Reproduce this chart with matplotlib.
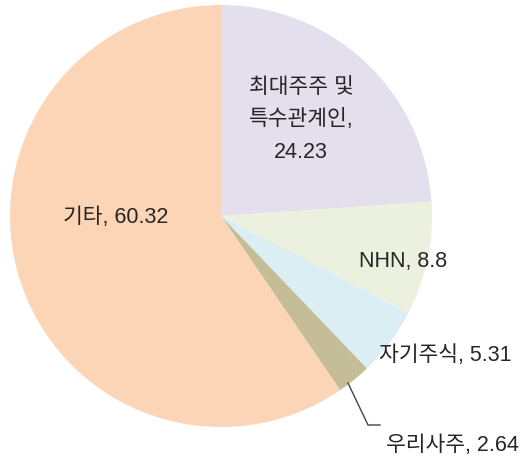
import matplotlib.pyplot as plt

plt.rcParams["font.family"] = ["Liberation Sans", "Noto Sans CJK KR", "DejaVu Sans"]

labels = ["최대주주 및\n특수관계인,\n24.23", "NHN, 8.8", "자기주식, 5.31", "우리사주, 2.64", "기타, 60.32"]
values = [24.23, 8.8, 5.31, 2.64, 60.32]
colors = ["#E4DFEC", "#EBF1DE", "#DBEEF4", "#C4BD97", "#FBD5B5"]

H = 459
fig = plt.figure(figsize=(5.24, 4.59), dpi=100)
ax = fig.add_axes([0, 0, 1, 1])

ax.pie(values, colors=colors, startangle=90, counterclock=False,
       radius=211, center=(221, H - 216), frame=True,
       wedgeprops=dict(linewidth=0))

ax.set_xlim(0, 524)
ax.set_ylim(0, H)
ax.set_aspect("equal")
ax.axis("off")

# label positions (pixel coords, y from top)
pos = [(301, 120), (403, 262), (445, 355), (452, 446), (116, 218)]
for lab, (x, y) in zip(labels, pos):
    ax.text(x, H - y, lab, ha="center", va="center", fontsize=15.5,
            color="#262626", linespacing=1.7)

# leader line for 우리사주
ax.plot([348, 368, 380], [H - 383, H - 425, H - 425], color="#444444", lw=1)

fig.savefig("out.png", dpi=100)
